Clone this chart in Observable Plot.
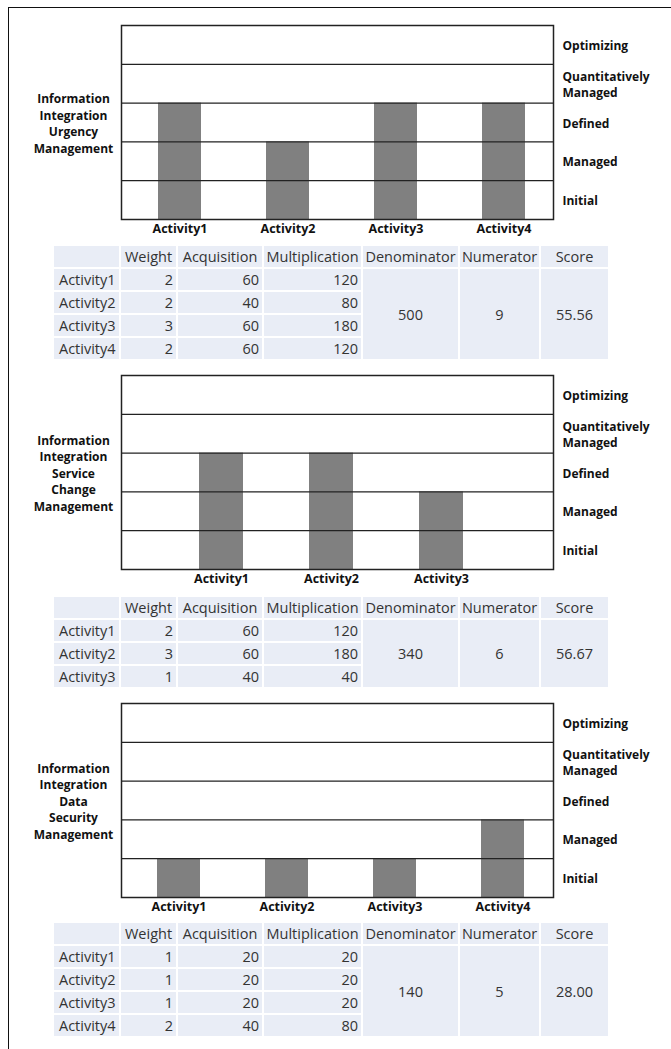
<!DOCTYPE html>
<html>
<head>
<meta charset="utf-8">
<script src="https://cdn.jsdelivr.net/npm/d3@7"></script>
<script src="https://cdn.jsdelivr.net/npm/@observablehq/plot@0.6"></script>
<style>
  html, body { margin: 0; padding: 0; background: #fff; }
  body { width: 671px; height: 1049px; position: relative; overflow: hidden; font-family: "Open Sans", sans-serif; }
  #border { position: absolute; left: 8px; top: 7px; width: 700px; height: 1100px; border-left: 1.5px solid #111; border-top: 1.5px solid #111; }
  .panel { position: absolute; left: 0; }
  table.score { position: absolute; left: 52px; border-collapse: collapse; font-family: "Open Sans", sans-serif; font-size: 14.5px; color: #333; table-layout: fixed; }
  table.score td, table.score th { background: #e9edf6; border: 2px solid #fff; height: 21px; padding: 0 3px; font-weight: normal; line-height: 21px; white-space: nowrap; overflow: visible; }
  table.score th { text-align: center; padding: 0 1px; }
  table.score td.name { text-align: left; padding-left: 5px; }
  table.score td.num { text-align: right; }
  table.score td.merged { text-align: center; }
</style>
</head>
<body>
<div id="border"></div>
<div id="root"></div>
<script>
// ---- data ----
const levelNames = ["Initial", "Managed", "Defined", "Quantitatively\nManaged", "Optimizing"];
const columns = ["", "Weight", "Acquisition", "Multiplication", "Denominator", "Numerator", "Score"];

const title1 = "Information\nIntegration\nUrgency\nManagement";
const activities1 = ["Activity1", "Activity2", "Activity3", "Activity4"];
const level1 = [3, 2, 3, 3];
const weight1 = [2, 2, 3, 2];
const acquisition1 = [60, 40, 60, 60];
const multiplication1 = [120, 80, 180, 120];
const denominator1 = 500, numerator1 = 9, score1 = "55.56";

const title2 = "Information\nIntegration\nService\nChange\nManagement";
const activities2 = ["Activity1", "Activity2", "Activity3"];
const level2 = [3, 3, 2];
const weight2 = [2, 3, 1];
const acquisition2 = [60, 60, 40];
const multiplication2 = [120, 180, 40];
const denominator2 = 340, numerator2 = 6, score2 = "56.67";

const title3 = "Information\nIntegration\nData\nSecurity\nManagement";
const activities3 = ["Activity1", "Activity2", "Activity3", "Activity4"];
const level3 = [1, 1, 1, 2];
const weight3 = [1, 1, 1, 2];
const acquisition3 = [20, 20, 20, 40];
const multiplication3 = [20, 20, 20, 80];
const denominator3 = 140, numerator3 = 5, score3 = "28.00";

const panels = [
  {top: 0, tableTop: 244, title: title1, acts: activities1, lv: level1, w: weight1, a: acquisition1, m: multiplication1, d: denominator1, n: numerator1, s: score1, insetL: 4, insetR: -5},
  {top: 350, tableTop: 595, title: title2, acts: activities2, lv: level2, w: weight2, a: acquisition2, m: multiplication2, d: denominator2, n: numerator2, s: score2, insetL: 45, insetR: 57},
  {top: 678, tableTop: 921, title: title3, acts: activities3, lv: level3, w: weight3, a: acquisition3, m: multiplication3, d: denominator3, n: numerator3, s: score3, insetL: 3, insetR: -5}
];

const root = document.getElementById("root");

for (const p of panels) {
  const rows = p.acts.map((act, i) => ({activity: act, level: p.lv[i]}));
  const chart = Plot.plot({
    width: 671,
    height: 239,
    marginTop: 25,
    marginBottom: 20,
    marginLeft: 121,
    marginRight: 118,
    style: {fontFamily: "Open Sans", fontSize: "12px", color: "#111", background: "transparent"},
    x: {type: "band", domain: p.acts, paddingInner: 0.6, paddingOuter: 0.3, insetLeft: p.insetL, insetRight: p.insetR},
    y: {domain: [0, 5]},
    marks: [
      Plot.barY(rows, {x: "activity", y: "level", fill: "#808080"}),
      Plot.ruleY([1, 2, 3, 4], {stroke: "#222", strokeWidth: 1.3}),
      Plot.frame({stroke: "#222", strokeWidth: 1.5}),
      Plot.axisX({anchor: "bottom", tickSize: 0, tickPadding: 5, fontWeight: "bold", fontSize: 12.5, label: null}),
      Plot.axisY({anchor: "right", ticks: [0.5, 1.5, 2.5, 3.5, 4.5], tickFormat: d => levelNames[Math.floor(d)], tickSize: 0, tickPadding: 9, fontWeight: "bold", fontSize: 12, lineHeight: 1.35, label: null}),
      Plot.text([p.title], {frameAnchor: "left", dx: -48, textAnchor: "middle", fontWeight: "bold", fontSize: 12, lineHeight: 1.38, fill: "#111"})
    ]
  });
  chart.classList.add("panel");
  chart.style.top = p.top + "px";
  root.appendChild(chart);

  // table
  const table = d3.select(root).append("table").attr("class", "score").style("top", p.tableTop + "px");
  const widths = [67, 57, 86, 99, 97, 81, 69];
  const cg = table.append("colgroup");
  widths.forEach(w => cg.append("col").style("width", w + "px"));
  const hr = table.append("tr");
  columns.forEach(c => hr.append("th").text(c));
  p.acts.forEach((act, i) => {
    const tr = table.append("tr");
    tr.append("td").attr("class", "name").text(act);
    tr.append("td").attr("class", "num").text(p.w[i]);
    tr.append("td").attr("class", "num").text(p.a[i]);
    tr.append("td").attr("class", "num").text(p.m[i]);
    if (i === 0) {
      tr.append("td").attr("class", "merged").attr("rowspan", p.acts.length).text(p.d);
      tr.append("td").attr("class", "merged").attr("rowspan", p.acts.length).text(p.n);
      tr.append("td").attr("class", "merged").attr("rowspan", p.acts.length).text(p.s);
    }
  });
}
</script>
</body>
</html>
